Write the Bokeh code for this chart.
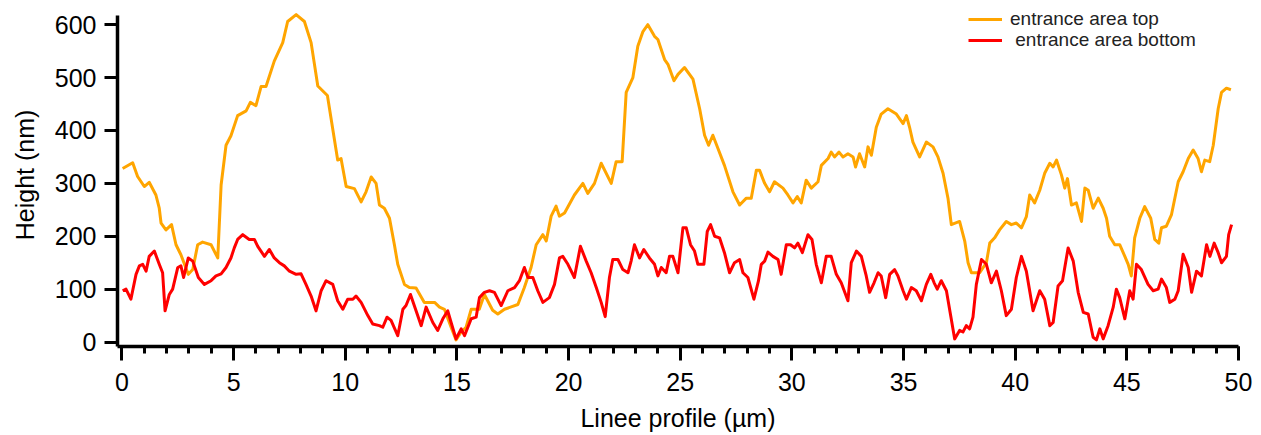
from bokeh.plotting import figure
from bokeh.models import Range1d, SingleIntervalTicker, Legend, LegendItem
from bokeh.embed import file_html
from bokeh.resources import INLINE

# ---- data ----
top_x = [0.03,0.48,0.7,1.0,1.22,1.52,1.67,1.75,1.97,2.22,2.42,2.64,2.97,3.17,3.39,3.61,3.99,4.29,4.44,4.66,
         4.88,5.18,5.56,5.75,6.0,6.23,6.45,6.82,7.2,7.42,7.8,8.17,8.47,8.77,9.2,9.51,9.66,9.81,10.04,10.41,
         10.71,10.93,11.16,11.38,11.53,11.75,11.98,12.2,12.35,12.65,12.87,13.17,13.54,14.0,14.22,14.44,14.74,14.96,15.19,15.41,
         15.64,16.0,16.23,16.6,16.83,17.13,17.73,18.02,18.32,18.55,18.85,19.0,19.22,19.44,19.59,19.82,20.26,20.64,20.86,21.16,
         21.46,21.91,22.13,22.4,22.58,22.88,23.1,23.33,23.55,23.85,24.0,24.3,24.45,24.72,24.9,25.19,25.57,25.87,26.09,26.27,
         26.46,26.69,26.98,27.36,27.66,27.96,28.18,28.41,28.55,28.78,29.0,29.22,29.6,29.82,30.05,30.24,30.42,30.64,30.87,31.17,
         31.32,31.62,31.76,31.91,32.11,32.29,32.51,32.74,32.85,33.03,33.26,33.41,33.56,33.78,34.0,34.3,34.68,34.98,35.13,35.27,
         35.42,35.72,36.02,36.32,36.54,36.77,36.99,37.14,37.51,37.74,37.89,38.04,38.41,38.71,38.86,39.08,39.3,39.6,39.83,40.05,
         40.28,40.5,40.65,40.87,41.1,41.32,41.55,41.7,41.85,42.07,42.22,42.34,42.52,42.74,42.97,43.12,43.27,43.49,43.72,43.94,
         44.09,44.23,44.46,44.68,44.91,45.06,45.2,45.35,45.58,45.8,46.07,46.25,46.43,46.55,46.77,47.0,47.3,47.52,47.75,47.97,
         48.19,48.34,48.49,48.71,48.87,49.09,49.24,49.46,49.66]
top_y = [328,339,313,294,302,278,253,225,212,222,184,165,128,137,184,189,184,159,297,372,
         390,428,437,453,447,483,483,531,566,606,619,606,566,484,466,384,344,347,294,290,
         265,284,312,300,259,253,234,184,147,109,103,102,75,75,66,62,28,4,19,28,
         62,62,90,60,53,62,71,103,141,184,203,191,238,257,238,244,278,300,281,300,
         338,300,341,341,472,500,559,587,600,578,572,534,525,494,506,519,497,441,391,372,
         391,366,334,284,259,272,272,325,325,300,284,303,291,278,263,275,263,306,291,303,
         334,347,359,350,359,350,356,350,331,356,331,369,353,406,431,441,431,413,428,406,
         378,350,378,369,350,319,272,222,228,191,150,131,131,150,187,197,212,228,222,225,
         216,237,278,263,287,319,338,331,344,316,291,309,259,263,228,291,287,253,272,253,
         234,200,184,184,162,147,125,197,234,256,234,194,187,216,219,241,303,322,347,363,
         347,322,344,341,372,441,472,480,477]

bottom_x = [0.03,0.18,0.4,0.63,0.78,0.93,1.08,1.22,1.45,1.67,1.82,1.93,2.12,2.27,2.5,2.64,2.76,2.97,3.17,3.42,
            3.69,3.99,4.21,4.44,4.66,4.88,5.03,5.18,5.41,5.7,5.93,6.08,6.38,6.6,6.82,7.05,7.27,7.5,7.8,8.02,
            8.24,8.47,8.69,8.92,9.14,9.44,9.66,9.89,10.11,10.34,10.48,10.71,11.01,11.23,11.53,11.68,11.87,12.05,12.35,12.58,
            12.72,12.92,13.17,13.4,13.62,13.92,14.14,14.37,14.59,14.74,14.96,15.19,15.34,15.64,15.86,16.01,16.23,16.46,16.68,16.98,
            17.28,17.58,17.8,18.02,18.18,18.4,18.62,18.85,19.14,19.37,19.59,19.74,19.97,20.26,20.53,20.79,21.01,21.24,21.46,21.64,
            21.83,21.98,22.21,22.43,22.66,22.8,22.95,23.18,23.37,23.62,23.85,24.0,24.15,24.37,24.52,24.67,24.9,25.12,25.27,25.46,
            25.64,25.79,26.06,26.21,26.36,26.54,26.76,26.98,27.21,27.43,27.66,27.81,28.03,28.3,28.5,28.63,28.78,28.93,29.15,29.38,
            29.52,29.75,29.94,30.12,30.27,30.47,30.72,30.9,31.09,31.32,31.54,31.76,31.99,32.21,32.51,32.66,32.89,33.11,33.33,33.48,
            33.68,33.86,34.0,34.2,34.38,34.6,34.75,34.98,35.13,35.35,35.57,35.8,36.02,36.22,36.37,36.51,36.69,36.92,37.11,37.29,
            37.51,37.66,37.81,37.96,38.11,38.26,38.49,38.71,38.93,39.16,39.38,39.6,39.83,40.05,40.28,40.5,40.8,41.1,41.32,41.55,
            41.7,41.92,42.12,42.37,42.6,42.82,43.05,43.27,43.49,43.64,43.79,43.94,44.16,44.39,44.53,44.68,44.91,45.13,45.28,45.43,
            45.65,45.95,46.18,46.4,46.55,46.77,46.92,47.15,47.3,47.52,47.75,47.9,48.12,48.34,48.57,48.72,48.91,49.09,49.24,49.46,
            49.56,49.69]
bottom_y = [97,100,81,128,144,147,134,162,172,147,131,59,90,100,141,144,122,159,153,122,
            109,116,125,129,141,159,178,194,203,194,194,181,162,175,159,150,144,134,128,129,
            109,87,59,97,116,109,78,62,81,81,87,75,50,34,31,28,47,41,12,62,
            69,90,59,31,66,37,22,44,59,37,6,25,12,44,47,84,94,97,94,69,
            97,103,116,141,122,122,97,75,84,109,159,162,147,122,181,153,131,103,75,48,
            122,156,156,137,131,153,184,159,175,159,147,125,141,131,162,162,131,216,216,184,
            172,147,147,209,222,200,197,169,131,150,156,131,122,81,115,147,153,170,162,156,
            128,184,184,178,187,169,203,194,147,112,162,162,128,112,78,150,172,162,125,94,
            112,131,125,84,128,137,125,97,81,103,97,78,109,128,112,100,116,97,50,6,
            22,19,31,25,47,109,156,147,112,134,97,50,62,122,162,134,59,97,81,31,
            37,106,116,178,153,94,56,53,9,4,25,6,31,66,100,84,44,97,81,147,
            137,109,97,100,119,103,75,81,97,166,141,94,134,125,184,162,187,169,150,162,
            203,222]

series_names = ["entrance area top", " entrance area bottom"]
series_colors = ["#FFA500", "#FF0000"]

x_ticks_interval = 5
y_ticks_interval = 100

FONT = "Liberation Sans"

p = figure(width=1253, height=434, output_backend="svg", toolbar_location=None,
           x_range=Range1d(-0.2, 50), y_range=Range1d(-8.4, 640),
           min_border_left=117, min_border_right=15, min_border_top=3, min_border_bottom=81)
p.background_fill_color = "white"
p.border_fill_color = "white"
p.outline_line_color = None
p.xgrid.visible = False
p.ygrid.visible = False

r_top = p.line(top_x, top_y, line_color=series_colors[0], line_width=3, line_join="round")
r_bot = p.line(bottom_x, bottom_y, line_color=series_colors[1], line_width=3, line_join="round")

p.xaxis.ticker = SingleIntervalTicker(interval=x_ticks_interval, num_minor_ticks=5)
p.yaxis.ticker = SingleIntervalTicker(interval=y_ticks_interval, num_minor_ticks=0)
p.yaxis.bounds = (-8.4, 617)

for ax in (p.xaxis[0], p.yaxis[0]):
    ax.axis_line_width = 3.5
    ax.axis_line_color = "black"
    ax.major_tick_line_width = 3
    ax.major_tick_line_color = "black"
    ax.major_tick_in = 0
    ax.minor_tick_line_width = 3
    ax.minor_tick_line_color = "black"
    ax.minor_tick_in = 0
    ax.major_label_text_font = FONT
    ax.major_label_text_font_size = "25px"
    ax.major_label_text_color = "black"
    ax.axis_label_text_font = FONT
    ax.axis_label_text_font_size = "25px"
    ax.axis_label_text_font_style = "normal"
    ax.axis_label_text_color = "black"

p.xaxis.major_tick_out = 14
p.xaxis.minor_tick_out = 7
p.xaxis.major_label_standoff = 12
p.xaxis.axis_label = "Linee profile (µm)"
p.xaxis.axis_label_standoff = 10

p.yaxis.major_tick_out = 13
p.yaxis.minor_tick_out = 0
p.yaxis.major_label_standoff = 8
p.yaxis.axis_label = "Height (nm)"
p.yaxis.axis_label_standoff = 13

legend_kw = dict(orientation="vertical", label_text_font=FONT, label_text_font_size="19px",
                 label_text_color="#222222", glyph_width=34, glyph_height=20, label_height=20,
                 label_standoff=8, padding=0, spacing=0, margin=0,
                 background_fill_alpha=0, border_line_alpha=0)
legend1 = Legend(items=[LegendItem(label=series_names[0], renderers=[r_top])],
                 location=(851, 316), **legend_kw)
legend2 = Legend(items=[LegendItem(label=series_names[1], renderers=[r_bot])],
                 location=(851, 295), **legend_kw)
p.add_layout(legend1, "center")
p.add_layout(legend2, "center")

open("out.html", "w").write(file_html(p, INLINE))
